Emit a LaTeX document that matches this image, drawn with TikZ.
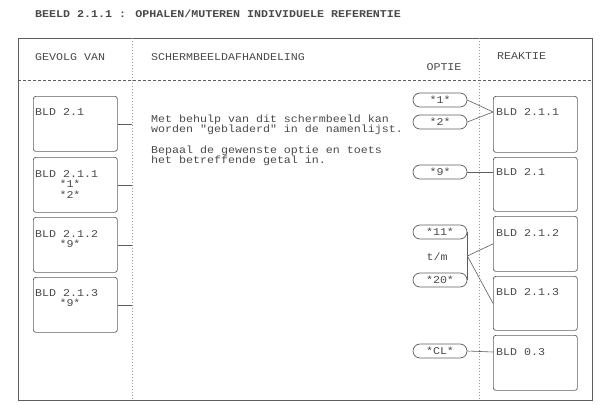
\documentclass[tikz,border=0pt]{standalone}
\usepackage{fontspec}
\newfontfamily\dotfam[FakeStretch=1.12]{Liberation Mono}
\usetikzlibrary{shapes.misc}
\definecolor{inkc}{HTML}{4A4A4A}
\definecolor{linec}{HTML}{5E5E5E}
\definecolor{divc}{HTML}{9A9A9A}
\newcommand\dotfnt{\dotfam\fontsize{10.4pt}{10.2pt}\selectfont}
\begin{document}
\begin{tikzpicture}[x=1pt,y=-1pt,
  txt/.style={font=\dotfnt, text=inkc, inner sep=0pt},
  captxt/.style={txt, text height=6.5pt, text depth=0pt},
  lbox/.style={draw=linec, line width=0.7pt, rounded corners=2.5pt, minimum width=84pt, inner sep=0pt, anchor=north west},
  oval/.style={draw=linec, line width=0.7pt, rounded rectangle, minimum width=54pt, minimum height=14pt, inner sep=0pt, font=\dotfnt, text=inkc, text height=6.5pt, text depth=0pt},
  conn/.style={draw=linec, line width=0.6pt},
  divider/.style={draw=divc, line width=0.6pt, dash pattern=on 1.2pt off 1.8pt},
  sep/.style={draw=linec, line width=0.6pt, dash pattern=on 3pt off 2pt}
]
\useasboundingbox (0,0) rectangle (604,404);
\fill[white] (0,0) rectangle (604,404);

% title
\node[captxt, anchor=west, font=\dotfnt\bfseries] (title) at (35,14) {BEELD 2.1.1 : OPHALEN/MUTEREN INDIVIDUELE REFERENTIE};

% frame
\node[draw=linec, line width=0.8pt, anchor=north west, minimum width=574pt, minimum height=362pt, inner sep=0pt] (frame) at (18,38) {};
\coordinate (dA) at (132,38);
\coordinate (dB) at (479,38);
\coordinate (hs) at (18,80);
\draw[divider] (dA) -- (dA |- frame.south);
\draw[divider] (dB) -- (dB |- frame.south);
\draw[sep] (hs) -- (hs -| frame.east);

% headers
\node[captxt, anchor=west] (h1) at (35,57) {GEVOLG VAN};
\node[captxt, anchor=west] (h2) at (151,57) {SCHERMBEELDAFHANDELING};
\node[captxt] (h3) at (444,67) {OPTIE};
\node[captxt, anchor=west] (h4) at (497,56) {REAKTIE};

% left boxes
\node[lbox, minimum height=55pt] (L1) at (33,96) {};
\node[lbox, minimum height=55pt] (L2) at (33,157) {};
\node[lbox, minimum height=55pt] (L3) at (33,217) {};
\node[lbox, minimum height=55pt] (L4) at (33,277) {};
\node[captxt, anchor=west] (L1a) at (35,112) {BLD 2.1};
\node[captxt, anchor=west] (L2a) at (35,174) {BLD 2.1.1};
\node[captxt] (L2b) at (70,184.5) {*1*};
\node[captxt] (L2c) at (70,195) {*2*};
\node[captxt, anchor=west] (L3a) at (35,234) {BLD 2.1.2};
\node[captxt] (L3b) at (70,244.5) {*9*};
\node[captxt, anchor=west] (L4a) at (35,293) {BLD 2.1.3};
\node[captxt] (L4b) at (70,303.5) {*9*};
\draw[conn] (L1.east) -- (L1.east -| dA);
\draw[conn] (L2.east) -- (L2.east -| dA);
\draw[conn] (L3.east) -- (L3.east -| dA);
\draw[conn] (L4.east) -- (L4.east -| dA);

% middle text
\node[txt, anchor=north west, align=left] (m1) at (151,115) {Met behulp van dit schermbeeld kan\\worden "gebladerd" in de namenlijst.};
\node[txt, anchor=north west, align=left] (m2) at (151,146) {Bepaal de gewenste optie en toets\\het betreffende getal in.};

% options
\node[oval] (o1) at (440,100) {*1*};
\node[oval] (o2) at (440,122) {*2*};
\node[oval] (o9) at (440,172) {*9*};
\node[oval] (o11) at (440,232) {*11*};
\node[txt] (tm) at (437,257) {t/m};
\node[oval] (o20) at (440,280) {*20*};
\node[oval] (oCL) at (440,351) {*CL*};

% right boxes
\node[lbox, minimum height=56pt] (R1) at (493,96) {};
\node[lbox, minimum height=54pt] (R2) at (493,157) {};
\node[lbox, minimum height=55pt] (R3) at (493,216) {};
\node[lbox, minimum height=54pt] (R4) at (493,276) {};
\node[lbox, minimum height=55pt] (R5) at (493,335) {};
\node[captxt, anchor=west] (R1a) at (496,112) {BLD 2.1.1};
\node[captxt, anchor=west] (R2a) at (496,172) {BLD 2.1};
\node[captxt, anchor=west] (R3a) at (496,233) {BLD 2.1.2};
\node[captxt, anchor=west] (R4a) at (496,292) {BLD 2.1.3};
\node[captxt, anchor=west] (R5a) at (496,352) {BLD 0.3};

% connectors
\draw[conn] (o1.east) -- (R1.west |- R1a.west);
\draw[conn] (o2.east) -- (R1.west |- R1a.west);
\draw[conn] (o9.east) -- (R2.west |- R2a.west);
\draw[conn] (o11.east) -- (o20.east) coordinate[pos=0.5] (jn);
\draw[conn] (jn) -- (R3.west);
\draw[conn] (jn) -- (R4.west);
\draw[conn] (oCL.east) -- (R5.west |- R5a.west);
\end{tikzpicture}
\end{document}
